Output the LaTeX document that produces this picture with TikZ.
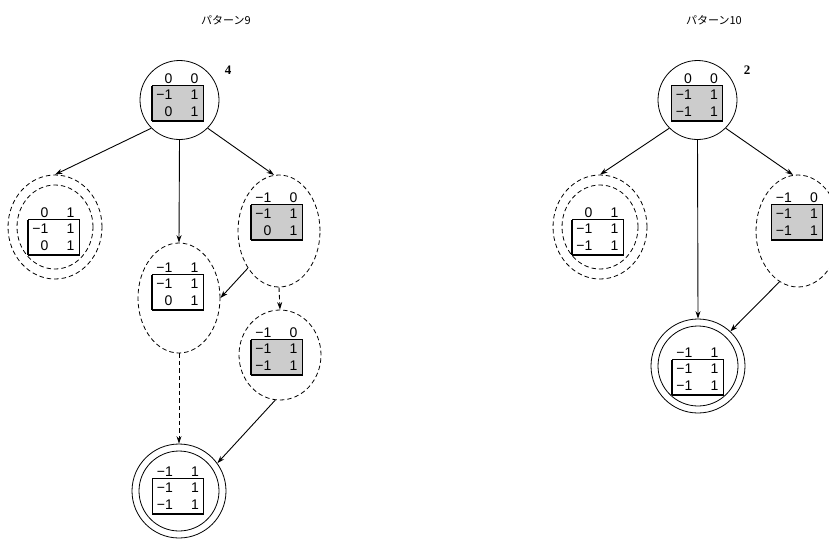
\documentclass[tikz,border=0pt]{standalone}
\usepackage{fontspec}
\setmainfont{Liberation Sans}
\newfontfamily\jpfont{Noto Sans CJK JP}
\newfontfamily\lblfont{Liberation Serif}
\usetikzlibrary{shapes.geometric,arrows.meta}
\definecolor{shadegray}{gray}{0.80}
\tikzset{
  dashring/.style={draw, ellipse, dash pattern=on 4.5pt off 3pt, line width=0.8pt, inner sep=0},
  solidring/.style={draw, circle, line width=0.8pt, inner sep=0},
  entry/.style={inner sep=0, anchor=east, font=\fontsize{14}{16}\selectfont, text height=10pt, text depth=0pt},
  conn/.style={line width=0.9pt, -{Stealth[length=7.5pt,width=5pt]}},
  dconn/.style={conn, dash pattern=on 4.5pt off 3pt},
  mbox/.style={line width=1pt},
  title/.style={font=\jpfont\fontsize{11}{13}\selectfont, inner sep=0},
  cnt/.style={font=\lblfont\bfseries\fontsize{13}{15}\selectfont, inner sep=0},
}
\newcommand\mtx[9][white]{%
  \begin{scope}[shift={(#3)}]
    \path[fill=#1] (-25.5,7.5) rectangle (25.5,43);
    \node[entry] (#2-t1) at (-5,0) {#4};
    \node[entry] (#2-t2) at (21,0) {#5};
    \node[entry] (#2-a1) at (-5,16.5) {#6};
    \node[entry] (#2-a2) at (21,16.5) {#7};
    \node[entry] (#2-b1) at (-5,33) {#8};
    \node[entry] (#2-b2) at (21,33) {#9};
    \draw[mbox] (-25.5,7.5) rectangle (25.5,43);
    \draw[line width=1.6pt] (-25.5,43) -- (25.5,43);
    \draw[line width=1.6pt] (-25.5,7.5) -- (-25.5,43);
  \end{scope}}
\begin{document}
\begin{tikzpicture}[x=1pt,y=-1pt]
\useasboundingbox[fill=white] (0,0) rectangle (829,539);
\clip (0,0) rectangle (829,539);

% titles
\node[title] (t9) at (226,20) {パターン9};
\node[title] (t10) at (714,20) {パターン10};

% ---------- pattern 9 ----------
\node[solidring, minimum size=79pt] (r9) at (179.5,100) {};
\mtx[shadegray]{m-r9}{177.5,78}{0}{0}{−1}{1}{0}{1}
\node[cnt] (c9) at (228,70) {4};

\node[dashring, minimum width=94pt, minimum height=104pt] (l9) at (55,227) {};
\node[dashring, minimum width=76pt, minimum height=84pt] (l9i) at (55,227) {};
\mtx{m-l9}{53.5,212}{0}{1}{−1}{1}{0}{1}

\node[dashring, minimum width=82pt, minimum height=110pt] (m9) at (179,298) {};
\mtx{m-m9}{177.5,267}{−1}{1}{−1}{1}{0}{1}

\node[dashring, minimum width=82pt, minimum height=112pt] (ru9) at (279,231) {};
\mtx[shadegray]{m-ru9}{276.5,197}{−1}{0}{−1}{1}{0}{1}

\node[dashring, minimum width=82pt, minimum height=90pt] (rl9) at (280,355) {};
\mtx[shadegray]{m-rl9}{276.5,332}{−1}{0}{−1}{1}{−1}{1}

\node[solidring, minimum size=94pt] (b9) at (179,491) {};
\node[solidring, minimum size=80pt] (b9i) at (179,491) {};
\mtx{m-b9}{178,471}{−1}{1}{−1}{1}{−1}{1}

\draw[conn] (r9.225) -- (l9.north);
\draw[conn] (r9.south) -- (m9.north);
\draw[conn] (r9.-45) -- (ru9.95);
\draw[conn] (ru9.230) -- (m9.east);
\draw[dconn] (ru9.south) -- (rl9.north);
\draw[dconn] (m9.south) -- (b9.north);
\draw[conn] (rl9.264) -- (b9.36);

% ---------- pattern 10 ----------
\node[solidring, minimum size=79pt] (r10) at (697.5,100) {};
\mtx[shadegray]{m-r10}{697,78}{0}{0}{−1}{1}{−1}{1}
\node[cnt] (c10) at (747,70) {2};

\node[dashring, minimum width=94pt, minimum height=104pt] (l10) at (600,227) {};
\node[dashring, minimum width=76pt, minimum height=84pt] (l10i) at (600,227) {};
\mtx{m-l10}{597.5,212}{0}{1}{−1}{1}{−1}{1}

\node[dashring, minimum width=84pt, minimum height=112pt] (rr10) at (798,231) {};
\mtx[shadegray]{m-rr10}{797,197}{−1}{0}{−1}{1}{−1}{1}

\node[solidring, minimum size=94pt] (b10) at (698,366) {};
\node[solidring, minimum size=80pt] (b10i) at (698,366) {};
\mtx{m-b10}{697.5,352}{−1}{1}{−1}{1}{−1}{1}

\draw[conn] (r10.225) -- (l10.north);
\draw[conn] (r10.south) -- (b10.north);
\draw[conn] (r10.-45) -- (rr10.95);
\draw[conn] (rr10.250) -- (b10.47);
\end{tikzpicture}
\end{document}
